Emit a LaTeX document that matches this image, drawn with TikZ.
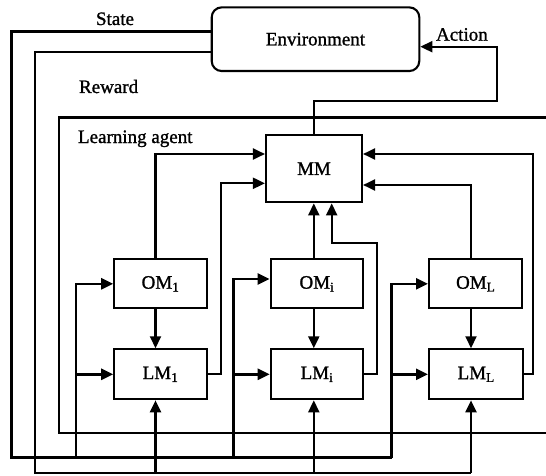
\documentclass[tikz,border=0pt]{standalone}
\usepackage{fontspec}
\setmainfont{Liberation Serif}
\newfontfamily\heavyserif[FakeBold=1.2]{Liberation Serif}
\usetikzlibrary{arrows.meta}
\begin{document}
\begin{tikzpicture}[x=1pt,y=-1pt,
  line width=2.1pt,
  txt/.style={font=\heavyserif\fontsize{19}{22}\selectfont},
  box/.style={draw, line width=2.1pt, inner sep=0pt, txt},
  modbox/.style={box, minimum width=92.5pt, minimum height=49pt},
  lbl/.style={inner sep=0pt, txt},
  arr/.style={-{Triangle[length=12pt,width=11pt]}},
  statebus/.style={line width=2.5pt}]
\useasboundingbox (0,0) rectangle (546,476);

% nodes
\node[box, rounded corners=10pt, minimum width=207.6pt, minimum height=63.7pt] (env) at (315.5,39.2) {Environment};
\node[box, minimum width=96pt, minimum height=67.3pt] (mm) at (314,168.7) {MM};
\node[modbox] (om1) at (160.5,283.8) {OM\textsubscript{1}};
\node[modbox] (omi) at (316.9,283.8) {OM\textsubscript{i}};
\node[modbox, minimum width=93.3pt] (oml) at (475.7,283.8) {OM\textsubscript{L}};
\node[modbox, minimum height=50pt] (lm1) at (160.5,374.3) {LM\textsubscript{1}};
\node[modbox, minimum height=50pt] (lmi) at (317,374.3) {LM\textsubscript{i}};
\node[modbox, minimum width=94.3pt, minimum height=50pt] (lml) at (476.2,374.3) {LM\textsubscript{L}};

% labels
\node[lbl, anchor=base] (lstate) at (115,25) {State};
\node[lbl, anchor=base west] (laction) at (435,40.7) {Action};
\node[lbl, anchor=base west] (lreward) at (78,93) {Reward};
\node[lbl, anchor=base west] (lagent) at (77,143) {Learning agent};

% helper coordinates
\coordinate (c1) at (155.5,0);
\coordinate (c2) at (313.8,0);
\coordinate (c3) at (471,0);
\coordinate (s0) at (11.7,31.7);
\coordinate (s1) at (11.7,457.7);
\coordinate (f1) at (76,457.7);
\coordinate (f2) at (233.3,457.7);
\coordinate (f3) at (391.7,457.7);
\coordinate (r0) at (35,51.7);
\coordinate (r1) at (35,472.7);
\coordinate (r2) at (471,472.7);
\coordinate (a1) at (497.3,100.7);
\coordinate (k1) at (220.7,0);
\coordinate (k2) at (376.7,242.7);
\coordinate (k3) at (532.7,0);
\coordinate (q1) at ([yshift=-14.6pt]mm.west);
\coordinate (q2) at ([xshift=17.7pt]mm.south);
\coordinate (q3) at ([yshift=14.7pt]mm.east);

% learning agent frame
\draw (546,117.5) -- (59.3,117.5) -- (59.3,433) -- (546,433);

% state bus
\draw[statebus] (env.west |- s0) -- (s0) -- (s1) -- (f3);
\draw[statebus, arr] (f1) |- (om1.west);
\draw[statebus, arr] (f1 |- lm1.west) -- (lm1.west);
\draw[statebus, arr] (f2) |- ([yshift=4.8pt]omi.west);
\draw[statebus, arr] (f2 |- lmi.west) -- (lmi.west);
\draw[statebus, arr] (f3) |- (oml.west);
\draw[statebus, arr] (f3 |- lml.west) -- (lml.west);

% reward bus
\draw (env.west |- r0) -- (r0) -- (r1) -- (r2);
\draw[arr] (c1 |- r1) -- (c1 |- lm1.south);
\draw[arr] (c2 |- r1) -- (c2 |- lmi.south);
\draw[arr] (c3 |- r1) -- (c3 |- lml.south);

% OM -> LM
\draw[arr] (c1 |- om1.south) -- (c1 |- lm1.north);
\draw[arr] (c2 |- omi.south) -- (c2 |- lmi.north);
\draw[arr] (c3 |- oml.south) -- (c3 |- lml.north);

% to MM
\draw[arr] (c1 |- om1.north) |- ([yshift=14.7pt]mm.west);
\draw[arr] (lm1.east) -| (k1 |- q1) -- (q1);
\draw[arr] (c2 |- omi.north) -- (c2 |- mm.south);
\draw[arr] (lmi.east) -| (k2) -| (q2);
\draw[arr] (c3 |- oml.north) |- ([yshift=-16.3pt]mm.east);
\draw[arr] (lml.east) -| (k3 |- q3) -- (q3);

% action
\draw[arr] (mm.north) |- (a1) |- ([yshift=-7.5pt]env.east);
\end{tikzpicture}
\end{document}
